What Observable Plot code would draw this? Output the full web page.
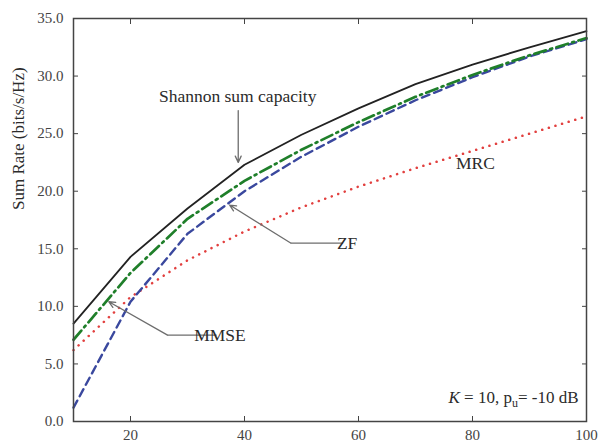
<!DOCTYPE html>
<html><head><meta charset="utf-8">
<script src="https://cdn.jsdelivr.net/npm/d3@7"></script>
<script src="https://cdn.jsdelivr.net/npm/@observablehq/plot@0.6"></script>
<style>body{margin:0;background:#fff}</style>
</head><body><div id="chart"></div>
<script>
// Number of antennas (x)
const antennas = [10, 20, 30, 40, 50, 60, 70, 80, 90, 100];
// Sum rate (bits/s/Hz) per scheme
const shannon = [8.5, 14.3, 18.5, 22.3, 24.9, 27.2, 29.3, 31.0, 32.5, 33.9];
const mmse    = [7.1, 12.9, 17.6, 20.9, 23.6, 26.0, 28.2, 30.1, 31.8, 33.3];
const zf      = [1.2, 10.4, 16.3, 20.0, 23.0, 25.6, 27.9, 29.9, 31.7, 33.2];
const mrc     = [6.2, 10.8, 14.0, 16.5, 18.6, 20.4, 22.0, 23.5, 25.0, 26.5];
const xTicks = [20, 40, 60, 80, 100];
const yTicks = [0, 5, 10, 15, 20, 25, 30, 35];
const yLabel = "Sum Rate (bits/s/Hz)";
const kLabel = "K = 10, pu= -10 dB";

// annotation label anchors (data coordinates)
const labelNames = ["Shannon sum capacity", "ZF", "MMSE", "MRC"];
const labelX = [38.8, 58.0, 35.7, 80.5];
const labelY = [28.2, 15.5, 7.5, 22.4];
const labelAnchor = ["middle", "start", "start", "middle"];
// leader lines: [knee -> tip] arrow + [knee -> end] line
const arrows = [
  {x1: 38.9, y1: 27.0, x2: 38.9, y2: 22.5},
  {x1: 48.1, y1: 15.5, x2: 37.4, y2: 18.8},
  {x1: 26.5, y1: 7.5, x2: 16.2, y2: 10.4}
];
const leaders = [
  {x1: 48.1, x2: 57.3, y: 15.5},
  {x1: 26.5, x2: 35.1, y: 7.5}
];

const series = (name, ys) => antennas.map((x, i) => ({x, y: ys[i], name}));
const serif = "'Liberation Serif', 'Times New Roman', serif";
const labels = labelNames.map((t, i) => ({t, x: labelX[i], y: labelY[i], a: labelAnchor[i]}));

const chart = Plot.plot({
  width: 598,
  height: 447,
  marginLeft: 73,
  marginRight: 12,
  marginTop: 18,
  marginBottom: 26,
  style: {fontFamily: serif, background: "#fff"},
  x: {domain: [10, 100]},
  y: {domain: [0, 35]},
  marks: [
    Plot.line(series("MRC", mrc), {x: "x", y: "y", stroke: "#e2403f", strokeWidth: 2.5, strokeDasharray: "0.1,6.8", strokeLinecap: "round"}),
    Plot.line(series("ZF", zf), {x: "x", y: "y", stroke: "#3a489e", strokeWidth: 2.4, strokeDasharray: "8,5"}),
    Plot.line(series("MMSE", mmse), {x: "x", y: "y", stroke: "#1f7f2a", strokeWidth: 2.7, strokeDasharray: "12,4.5,2,4.5"}),
    Plot.line(series("Shannon", shannon), {x: "x", y: "y", stroke: "#222", strokeWidth: 1.8}),
    Plot.arrow(arrows, {x1: "x1", y1: "y1", x2: "x2", y2: "y2", stroke: "#6d6d6d", strokeWidth: 1.3, headLength: 8, headAngle: 50}),
    Plot.link(leaders, {x1: "x1", x2: "x2", y1: "y", y2: "y", stroke: "#6d6d6d", strokeWidth: 1.3}),
    Plot.text(labels, {x: "x", y: "y", text: "t", textAnchor: "a", fontSize: 17.5, fill: "#2b2b2b", style: "letter-spacing:0.8px"}),
    Plot.text([kLabel], {x: 98.6, y: 2.1, text: d => d, textAnchor: "end", fontSize: 17, fill: "#2b2b2b", style: "letter-spacing:1px"}),
    Plot.text([yLabel], {frameAnchor: "left", rotate: -90, dx: -55, dy: -10, text: d => d, fontSize: 17, fill: "#2b2b2b", style: "letter-spacing:0.5px"}),
    Plot.axisX({ticks: xTicks, anchor: "bottom", tickSize: -5, tickPadding: 13, fontSize: 15, color: "#444"}),
    Plot.axisX({ticks: xTicks, anchor: "top", tickSize: -5, tickFormat: () => "", color: "#444"}),
    Plot.axisY({ticks: yTicks, anchor: "left", tickSize: -5, tickPadding: 15, tickFormat: d3.format(".1f"), fontSize: 15, color: "#444", style: "letter-spacing:0.5px"}),
    Plot.axisY({ticks: yTicks, anchor: "right", tickSize: -5, tickFormat: () => "", color: "#444"}),
    Plot.frame({stroke: "#444", strokeWidth: 1.5})
  ]
});

// rich formatting of the parameter note: italic K, subscript u
const kt = Array.from(chart.querySelectorAll("text")).find(e => e.textContent === kLabel);
if (kt) {
  kt.textContent = "";
  const ns = "http://www.w3.org/2000/svg";
  const parts = [["K", {"font-style": "italic"}], [" = 10, p", {}], ["u", {"font-size": "12", "dy": "4"}], ["= -10 dB", {"dy": "-4"}]];
  for (const [s, attrs] of parts) {
    const ts = document.createElementNS(ns, "tspan");
    ts.textContent = s;
    for (const k in attrs) ts.setAttribute(k, attrs[k]);
    kt.appendChild(ts);
  }
}
document.getElementById("chart").appendChild(chart);
</script>
</body></html>
